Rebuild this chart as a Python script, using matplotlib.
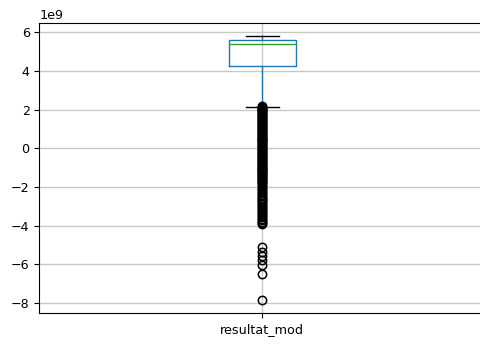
"""
Boxplot of resultat_mod (values in units of 1e9), drawn from summary stats.
"""
import matplotlib
matplotlib.use("Agg")
import matplotlib.pyplot as plt

SCALE = 1e9
column = "resultat_mod"

# box summary (x 1e9)
q1 = 4.24
median = 5.39
q3 = 5.60
whisker_low = 2.14
whisker_high = 5.80

# outliers (x 1e9): dense run below the lower whisker, then the sparse tail
fliers_dense = [2.2, 2.15, 2.1, 2.05, 2.0, 1.95, 1.9, 1.85, 1.8, 1.75,
                1.7, 1.65, 1.6, 1.55, 1.5, 1.45, 1.4, 1.35, 1.3, 1.25,
                1.2, 1.15, 1.1, 1.05, 1.0, 0.95, 0.9, 0.85, 0.8, 0.75,
                0.7, 0.65, 0.6, 0.55, 0.5, 0.45, 0.4, 0.35, 0.3, 0.25,
                0.2, 0.15, 0.1, 0.05, 0.0, -0.05, -0.1, -0.15, -0.2, -0.25,
                -0.3, -0.35, -0.4, -0.45, -0.5, -0.55, -0.6, -0.65, -0.7,
                -0.75, -0.8, -0.85, -0.9, -0.95, -1.0, -1.05, -1.1, -1.15,
                -1.2, -1.25, -1.3, -1.35, -1.4, -1.45, -1.5, -1.55, -1.6,
                -1.65, -1.7, -1.75, -1.8]
fliers_mid = [-1.87, -1.95, -2.02, -2.1, -2.17, -2.25, -2.32, -2.4, -2.47,
              -2.55, -2.6, -2.68, -2.75, -2.83, -2.9, -2.97, -3.05, -3.12,
              -3.2, -3.27, -3.35, -3.42, -3.5, -3.57, -3.65, -3.72, -3.8,
              -3.86, -3.9]
fliers_tail = [-5.12, -5.36, -5.59, -5.79, -6.02, -6.48, -7.86]


def build_stats():
    """Stats dict in the shape Axes.bxp expects."""
    fliers = [v * SCALE for v in fliers_dense + fliers_mid + fliers_tail]
    return [{
        "label": column,
        "q1": q1 * SCALE,
        "med": median * SCALE,
        "q3": q3 * SCALE,
        "whislo": whisker_low * SCALE,
        "whishi": whisker_high * SCALE,
        "fliers": fliers,
    }]


def plot_box(save_path="out.png"):
    plt.rcParams["font.size"] = 9.2
    fig = plt.figure(figsize=(4.8, 3.44), dpi=100)
    ax = fig.add_axes([0.082, 0.0887, 0.929, 0.845])

    ax.bxp(
        build_stats(),
        widths=0.15,
        boxprops=dict(color="C0", linewidth=1.0),
        whiskerprops=dict(color="C0", linewidth=1.0),
        medianprops=dict(color="C2", linewidth=1.0),
        capprops=dict(color="k", linewidth=1.0),
        flierprops=dict(marker="o", markerfacecolor="none",
                        markeredgecolor="k", markersize=6,
                        markeredgewidth=1.1),
    )
    ax.set_xlim(0.5, 1.5)
    ax.grid(True, color="#c8c8c8", linewidth=1.0)
    ax.set_axisbelow(True)

    fig.savefig(save_path, dpi=100)
    plt.close(fig)


if __name__ == "__main__":
    plot_box()
